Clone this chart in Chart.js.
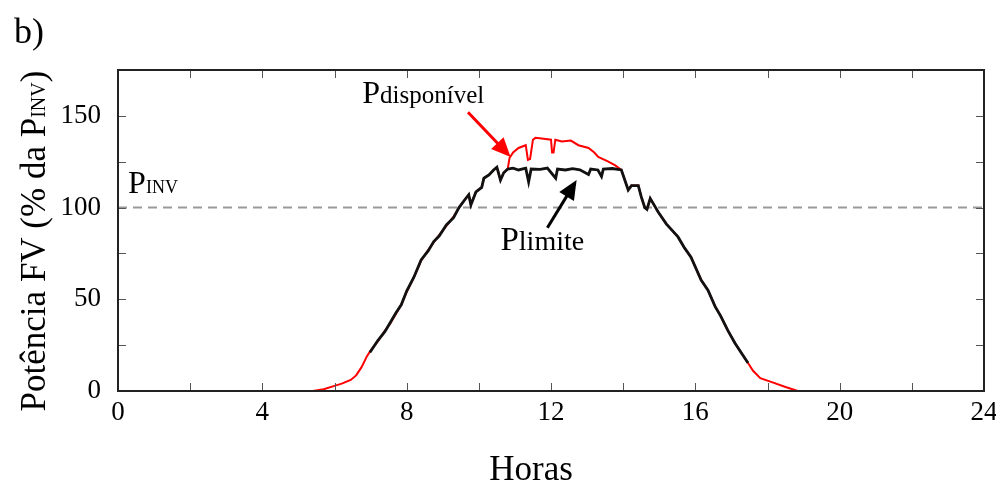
<!DOCTYPE html>
<html>
<head>
<meta charset="utf-8">
<script src="https://cdn.jsdelivr.net/npm/chart.js@4.4.0/dist/chart.umd.min.js"></script>
<style>
  body { margin: 0; background: #fff; }
  canvas { display: block; }
</style>
</head>
<body>
<canvas id="grafico" width="996" height="484"></canvas>
<script>
// horas e potência disponível (% da P_INV)
const horasDisp = [5.0, 5.4, 5.7, 6.0, 6.2, 6.45, 6.6, 6.75, 6.9, 7.0, 7.2, 7.4, 7.55, 7.7, 7.85, 8.0, 8.2, 8.4, 8.6, 8.75, 8.9, 9.1, 9.3, 9.45, 9.6, 9.72, 9.78, 9.92, 10.08, 10.14, 10.28, 10.41, 10.5, 10.6, 10.69, 10.8, 10.85, 10.95, 11.1, 11.3, 11.36, 11.42, 11.5, 11.57, 11.8, 12.0, 12.03, 12.07, 12.12, 12.3, 12.55, 12.76, 13.04, 13.2, 13.31, 13.59, 13.78, 13.95, 14.14, 14.23, 14.42, 14.5, 14.6, 14.66, 14.75, 14.97, 15.2, 15.52, 15.7, 15.88, 16.16, 16.35, 16.55, 16.7, 16.9, 17.1, 17.3, 17.46, 17.6, 17.8, 18.1, 18.5, 18.84, 19.5];
const pDisponivel = [0, 0, 1, 2.8, 4, 6, 8.5, 13, 19, 22, 27, 33, 37, 42, 47, 54, 62, 71, 77, 81, 85, 90, 95, 100, 104, 107, 101.5, 108.5, 111, 116, 117.8, 120.5, 122, 115, 119, 121, 127, 130, 132.5, 134, 126, 126.5, 137, 138, 137.5, 137, 130, 130, 137, 136, 136.5, 134, 132.5, 130, 127.6, 125, 123, 120.5, 109.6, 112, 112, 106, 100, 99, 105, 97.6, 91, 84, 78, 73, 60.5, 55, 46, 41, 33, 26, 20, 15.3, 11, 7, 5, 2.2, 0, 0];

// horas e potência limitada
const horasLim = [6.98, 7.2, 7.4, 7.55, 7.7, 7.85, 8.0, 8.2, 8.4, 8.6, 8.75, 8.9, 9.1, 9.3, 9.45, 9.6, 9.72, 9.78, 9.92, 10.08, 10.14, 10.28, 10.41, 10.5, 10.6, 10.69, 10.8, 10.95, 11.1, 11.3, 11.38, 11.45, 11.7, 11.9, 12.13, 12.18, 12.4, 12.6, 12.8, 13.04, 13.1, 13.3, 13.4, 13.45, 13.7, 13.95, 14.14, 14.23, 14.42, 14.5, 14.6, 14.66, 14.75, 14.97, 15.2, 15.52, 15.7, 15.88, 16.16, 16.35, 16.55, 16.7, 16.9, 17.1, 17.3, 17.46];
const pLimite = [21, 27.5, 32.5, 37.5, 42.5, 47, 54.5, 62, 71.5, 76.5, 81.5, 84.5, 90.5, 94.5, 100, 104, 107, 101.5, 108.5, 111, 116, 117.8, 120.5, 122, 115, 119, 121, 121.5, 120.5, 121.5, 114, 121, 120.8, 121.5, 116, 121, 120.5, 121.2, 120.6, 118, 121, 120.5, 117, 121, 121.3, 120.5, 109.6, 112, 112, 106, 100, 99, 105, 97.6, 91, 84, 78, 73, 60.5, 55, 46, 41, 33, 26, 20, 15.3];

const pInv = 100;
const horasTicks = [0, 4, 8, 12, 16, 20, 24];
const potenciaTicks = [0, 50, 100, 150];

const serif = "'Liberation Serif', 'Times New Roman', serif";

const pares = (xs, ys) => xs.map((x, i) => ({ x: x, y: ys[i] }));

const desenhos = {
  id: "desenhos",
  afterDraw(chart) {
    const { ctx, chartArea: a, scales: { x, y } } = chart;
    ctx.save();

    // ticks para dentro, nos quatro lados
    ctx.strokeStyle = "#555";
    ctx.lineWidth = 1;
    ctx.beginPath();
    x.ticks.forEach((t) => {
      const px = Math.round(x.getPixelForValue(t.value)) + 0.5;
      ctx.moveTo(px, a.bottom); ctx.lineTo(px, a.bottom - 8);
      ctx.moveTo(px, a.top); ctx.lineTo(px, a.top + 8);
    });
    y.ticks.forEach((t) => {
      const py = Math.round(y.getPixelForValue(t.value)) + 0.5;
      ctx.moveTo(a.left, py); ctx.lineTo(a.left + 8, py);
      ctx.moveTo(a.right, py); ctx.lineTo(a.right - 8, py);
    });
    ctx.stroke();

    // moldura
    ctx.strokeStyle = "#222";
    ctx.lineWidth = 2;
    ctx.strokeRect(a.left, a.top, a.right - a.left, a.bottom - a.top);

    // texto com partes de tamanhos diferentes
    const escrever = (partes, px, py) => {
      let cx = px;
      partes.forEach(([txt, size]) => {
        ctx.font = `${size}px ${serif}`;
        ctx.fillText(txt, cx, py);
        cx += ctx.measureText(txt).width;
      });
    };
    const largura = (partes) => partes.reduce((s, [txt, size]) => {
      ctx.font = `${size}px ${serif}`;
      return s + ctx.measureText(txt).width;
    }, 0);

    ctx.fillStyle = "#000";
    ctx.textBaseline = "alphabetic";
    ctx.textAlign = "left";

    escrever([["b)", 36]], 14, 43);

    // título do eixo x
    const tituloX = [["Horas", 35]];
    escrever(tituloX, 531 - largura(tituloX) / 2, 480);

    // título do eixo y
    const tituloY = [["Potência FV (% da P", 35], ["INV", 20], [")", 35]];
    ctx.save();
    ctx.translate(45, 241);
    ctx.rotate(-Math.PI / 2);
    escrever(tituloY, -largura(tituloY) / 2, 0);
    ctx.restore();

    // rótulos das curvas
    escrever([["P", 32], ["disponível", 25]], x.getPixelForValue(6.77), y.getPixelForValue(157));
    escrever([["P", 32], ["INV", 18]], x.getPixelForValue(0.28), y.getPixelForValue(108));
    escrever([["P", 33], ["limite", 28]], x.getPixelForValue(10.6), y.getPixelForValue(77));

    // setas
    const seta = (h0, v0, h1, v1, cor) => {
      const x0 = x.getPixelForValue(h0), y0 = y.getPixelForValue(v0);
      const x1 = x.getPixelForValue(h1), y1 = y.getPixelForValue(v1);
      const ang = Math.atan2(y1 - y0, x1 - x0);
      const cab = 21;
      ctx.strokeStyle = cor;
      ctx.fillStyle = cor;
      ctx.lineWidth = 3;
      ctx.beginPath();
      ctx.moveTo(x0, y0);
      ctx.lineTo(x1 - cab * 0.8 * Math.cos(ang), y1 - cab * 0.8 * Math.sin(ang));
      ctx.stroke();
      ctx.beginPath();
      ctx.moveTo(x1, y1);
      ctx.lineTo(x1 - cab * Math.cos(ang - 0.42), y1 - cab * Math.sin(ang - 0.42));
      ctx.lineTo(x1 - cab * Math.cos(ang + 0.42), y1 - cab * Math.sin(ang + 0.42));
      ctx.closePath();
      ctx.fill();
    };
    seta(9.7, 152, 10.88, 127.6, "#ff0000");
    seta(11.9, 89, 12.71, 115, "#000");

    ctx.restore();
  },
};

const ctx = document.getElementById("grafico").getContext("2d");

new Chart(ctx, {
  type: "line",
  data: {
    datasets: [
      {
        label: "Plimite",
        data: pares(horasLim, pLimite),
        borderColor: "#111",
        borderWidth: 2.8,
        pointRadius: 0,
        order: 0,
      },
      {
        label: "Pdisponível",
        data: pares(horasDisp, pDisponivel),
        borderColor: "#ff0000",
        borderWidth: 2,
        pointRadius: 0,
        order: 1,
      },
      {
        label: "PINV",
        data: [{ x: 0, y: pInv }, { x: 24, y: pInv }],
        borderColor: "#999",
        borderWidth: 2,
        borderDash: [9, 6],
        pointRadius: 0,
        order: 2,
      },
    ],
  },
  options: {
    responsive: false,
    animation: false,
    layout: { padding: { top: 70, right: 12, left: 0, bottom: 0 } },
    plugins: { legend: { display: false }, tooltip: { enabled: false } },
    scales: {
      x: {
        type: "linear",
        min: 0,
        max: 24,
        grid: { display: false, drawTicks: false },
        border: { display: false },
        ticks: {
          stepSize: 2,
          autoSkip: false,
          maxRotation: 0,
          padding: 6,
          color: "#000",
          font: { family: serif, size: 27 },
          callback: (v) => (horasTicks.includes(v) ? String(v) : ""),
        },
        afterFit: (s) => {
          s.height = 93;
          s.paddingLeft = 0;
          s.paddingRight = 0;
        },
      },
      y: {
        min: 0,
        max: 175,
        grid: { display: false, drawTicks: false },
        border: { display: false },
        ticks: {
          stepSize: 25,
          autoSkip: false,
          padding: 17,
          color: "#000",
          font: { family: serif, size: 27 },
          callback: (v) => (potenciaTicks.includes(v) ? String(v) : ""),
        },
        afterFit: (s) => {
          s.width = 118;
          s.paddingTop = 0;
          s.paddingBottom = 0;
        },
      },
    },
  },
  plugins: [desenhos],
});
</script>
</body>
</html>
